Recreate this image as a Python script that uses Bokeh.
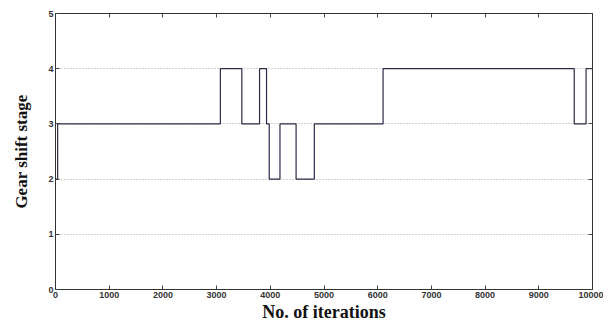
from bokeh.plotting import figure
from bokeh.models import Range1d, LinearAxis, FixedTicker
from bokeh.embed import file_html
from bokeh.resources import INLINE

# Data (step function, value holds until next change)
iterations = [0, 40, 3070, 3470, 3800, 3930, 3980, 4180, 4480, 4820, 6100, 9660, 9880, 10000]
gear_stage = [2, 3, 4, 3, 4, 3, 2, 3, 2, 3, 4, 3, 4, 4]
x_ticks = [0, 1000, 2000, 3000, 4000, 5000, 6000, 7000, 8000, 9000, 10000]
y_ticks = [0, 1, 2, 3, 4, 5]

p = figure(width=603, height=324, output_backend="svg", toolbar_location=None,
           x_range=Range1d(0, 10000), y_range=Range1d(0, 5),
           min_border_left=55, min_border_right=11, min_border_top=13, min_border_bottom=30)
p.background_fill_color = "white"
p.border_fill_color = "white"
p.outline_line_color = "#333333"
p.outline_line_width = 1

p.step(iterations, gear_stage, mode="after", line_color="#2a2a48", line_width=1.2)

tick_font = "Liberation Sans"
for ax in [p.xaxis[0], p.yaxis[0]]:
    ax.major_label_text_font = tick_font
    ax.major_label_text_font_size = "9px"
    ax.major_label_text_font_style = "bold"
    ax.major_label_text_color = "#333333"
    ax.axis_label_text_font = "Liberation Serif"
    ax.axis_label_text_font_style = "bold"
    ax.axis_label_text_color = "#111111"
    ax.major_tick_in = 4
    ax.major_tick_out = 0
    ax.minor_tick_line_color = None
    ax.axis_line_color = "#333333"
    ax.major_tick_line_color = "#444444"

p.xaxis[0].ticker = FixedTicker(ticks=x_ticks)
p.yaxis[0].ticker = FixedTicker(ticks=y_ticks)
p.xaxis[0].axis_label = "No. of iterations"
p.xaxis[0].axis_label_text_font_size = "18px"
p.xaxis[0].major_label_standoff = 2
p.xaxis[0].axis_label_standoff = 1
p.yaxis[0].axis_label = "Gear shift stage"
p.yaxis[0].axis_label_text_font_size = "17px"
p.yaxis[0].major_label_standoff = 2
p.yaxis[0].axis_label_standoff = 14

top = LinearAxis(ticker=FixedTicker(ticks=x_ticks),
                 major_label_overrides={t: "" for t in x_ticks},
                 major_tick_in=4, major_tick_out=0, minor_tick_line_color=None,
                 axis_line_color="#333333", major_tick_line_color="#444444",
                 major_label_standoff=0)
p.add_layout(top, "above")
right = LinearAxis(ticker=FixedTicker(ticks=y_ticks),
                   major_label_overrides={t: "" for t in y_ticks},
                   major_tick_in=4, major_tick_out=0, minor_tick_line_color=None,
                   axis_line_color="#333333", major_tick_line_color="#444444",
                   major_label_standoff=0)
p.add_layout(right, "right")

p.xgrid.grid_line_color = None
p.ygrid.ticker = FixedTicker(ticks=[1, 2, 3, 4])
p.ygrid.grid_line_color = "#a8a8a8"
p.ygrid.grid_line_dash = "1 2"
p.ygrid.grid_line_width = 1

open("out.html", "w").write(file_html(p, INLINE))
